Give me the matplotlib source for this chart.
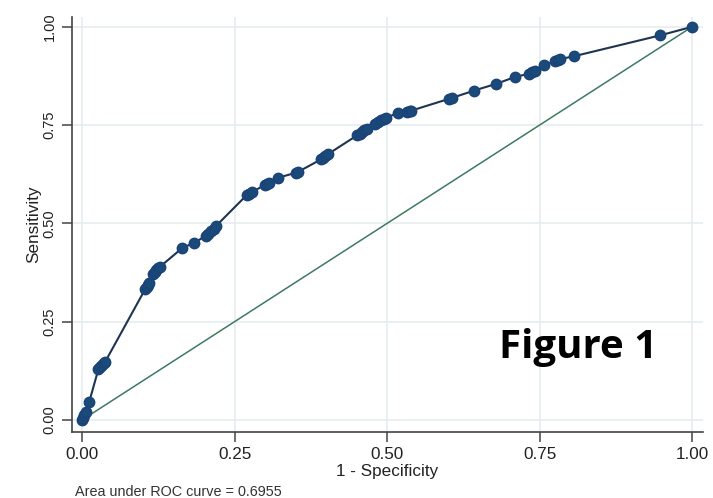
import matplotlib.pyplot as plt
import numpy as np

# ROC points (1 - specificity, sensitivity)
fpr = [0.000, 0.002, 0.004, 0.007, 0.012, 0.027, 0.029, 0.033, 0.036, 0.038,
       0.104, 0.106, 0.108, 0.110, 0.116, 0.119, 0.122, 0.125, 0.128, 0.164,
       0.184, 0.203, 0.207, 0.211, 0.216, 0.220, 0.270, 0.274, 0.279, 0.300,
       0.303, 0.306, 0.321, 0.351, 0.354, 0.392, 0.395, 0.398, 0.403, 0.451,
       0.455, 0.459, 0.463, 0.467, 0.480, 0.486, 0.490, 0.495, 0.499, 0.518,
       0.533, 0.537, 0.540, 0.602, 0.606, 0.643, 0.679, 0.709, 0.733, 0.738,
       0.742, 0.758, 0.776, 0.780, 0.784, 0.806, 0.947, 1.000]
tpr = [0.000, 0.006, 0.012, 0.020, 0.047, 0.130, 0.134, 0.140, 0.145, 0.148,
       0.334, 0.338, 0.344, 0.349, 0.372, 0.377, 0.381, 0.386, 0.390, 0.437,
       0.451, 0.468, 0.474, 0.481, 0.487, 0.494, 0.572, 0.576, 0.580, 0.598,
       0.601, 0.604, 0.616, 0.629, 0.631, 0.663, 0.667, 0.671, 0.676, 0.724,
       0.728, 0.733, 0.737, 0.740, 0.752, 0.757, 0.762, 0.766, 0.769, 0.781,
       0.784, 0.786, 0.787, 0.817, 0.819, 0.838, 0.855, 0.872, 0.881, 0.885,
       0.888, 0.904, 0.912, 0.915, 0.918, 0.925, 0.978, 1.000]
ticks = [0.0, 0.25, 0.5, 0.75, 1.0]
tick_labels = ["0.00", "0.25", "0.50", "0.75", "1.00"]
auc_text = "Area under ROC curve = 0.6955"

plt.rcParams['font.family'] = ['Liberation Sans', 'DejaVu Sans']

fig = plt.figure(figsize=(7.13, 4.98), dpi=100)
ax = fig.add_axes([72 / 713, 1 - 432 / 498, (703 - 72) / 713, (432 - 17) / 498])

ax.plot([0, 1], [0, 1], color="#3d7a60", lw=1.1, zorder=2)
ax.plot(fpr, tpr, color="#1e3450", lw=1.5, marker="o", ms=7.5,
        mfc="#1a4a7a", mec="#1a4478", zorder=3)

ax.set_xlim(-0.0164, 1.018)
ax.set_ylim(-0.0305, 1.025)
ax.set_xticks(ticks)
ax.set_xticklabels(tick_labels, fontsize=12.3)
ax.set_yticks(ticks)
ax.set_yticklabels(tick_labels, rotation=90, va="center", fontsize=10.5)
ax.grid(True, color="#e6ecef", lw=1.2)
ax.set_axisbelow(True)
for s in ["top", "right"]:
    ax.spines[s].set_visible(False)
for s in ["left", "bottom"]:
    ax.spines[s].set_color("#444444")
    ax.spines[s].set_linewidth(1.2)
ax.tick_params(direction="out", length=7, width=1.1, color="#444444",
               labelcolor="#222222", pad=4)
ax.set_xlabel("1 - Specificity", fontsize=12.3, color="#222222", labelpad=1)
ax.set_ylabel("Sensitivity", fontsize=12.3, color="#222222", labelpad=1)

ax.text(0.813, 0.184, "Figure 1", fontsize=29, fontweight="bold",
        family=["Open Sans", "DejaVu Sans"], ha="center", va="center",
        color="black")
fig.text(75 / 713, 0.005, auc_text, fontsize=10.4, color="#333333",
         ha="left", va="baseline")

fig.savefig("out.png", dpi=100)
